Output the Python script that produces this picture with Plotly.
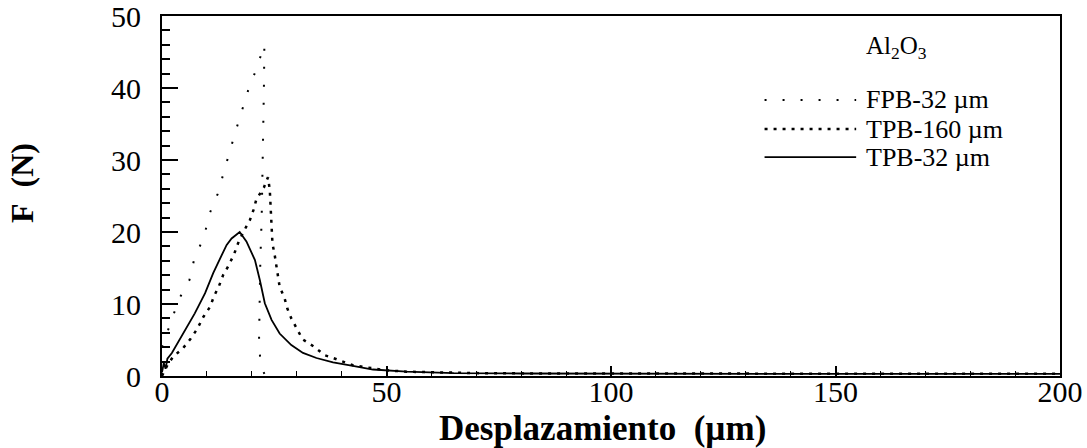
import plotly.graph_objects as go

# ---- data ----
fpb32_x = [0, 2.9, 3.8, 6.1, 7.2, 9.4, 10.5, 12.4, 13.8, 15.0, 16.4, 17.7, 19.2, 21.0, 22.8,
           22.7, 22.5, 22.2, 21.9, 21.7, 21.6, 22.0, 23.0]
fpb32_y = [4.0, 8.9, 10.7, 13.3, 16.3, 19.4, 22.4, 25.3, 28.2, 31.0, 34.0, 36.8, 39.7, 42.6, 46.0,
           40.0, 30.0, 22.0, 16.0, 10.0, 4.5, 1.5, 0.0]

tpb160_x = [0, 1.2, 2.5, 4.6, 6.4, 7.9, 9.2, 10.7, 11.6, 12.7, 13.6, 14.9, 16.1, 17.1, 18.3, 19.6,
            20.4, 21.0, 22.7, 23.6, 24.0, 24.2, 24.4, 24.6, 25.1, 25.5, 26.2, 27.3, 27.9, 28.8,
            31.3, 33.8, 36.2, 38.1, 40.3, 42.5, 45.5, 49.9, 54.4, 59.6, 70, 85, 100, 120, 140,
            160, 180, 200]
tpb160_y = [0.0, 1.5, 2.7, 3.8, 5.2, 6.6, 8.2, 9.6, 11.1, 12.5, 14.0, 15.4, 17.0, 18.7, 20.2, 21.7,
            23.1, 24.5, 26.2, 27.6, 25.9, 23.5, 20.0, 18.4, 16.8, 15.3, 12.4, 10.8, 9.4, 8.0,
            5.1, 4.1, 2.9, 2.5, 2.0, 1.5, 1.2, 0.8, 0.6, 0.5, 0.4, 0.35, 0.35, 0.3, 0.35,
            0.3, 0.3, 0.3]

tpb32_x = [0, 0.4, 0.8, 1.2, 2.2, 4.7, 7.3, 9.6, 11.4, 13.3, 14.4, 15.5, 17.3, 18.8, 20.7, 21.8,
           22.9, 24.4, 26.2, 28.8, 31.4, 34.4, 38.1, 42.5, 47.0, 54.4, 65, 80, 100, 120, 140,
           160, 180, 200]
tpb32_y = [0.5, 1.8, 1.0, 2.4, 3.2, 5.9, 8.7, 11.5, 14.3, 16.8, 18.2, 19.1, 20.0, 18.7, 16.1, 13.3,
           10.1, 7.8, 5.9, 4.3, 3.2, 2.5, 1.9, 1.4, 0.9, 0.6, 0.4, 0.35, 0.3, 0.3, 0.3,
           0.3, 0.3, 0.3]

x_ticks = [0, 50, 100, 150, 200]
y_ticks = [0, 10, 20, 30, 40, 50]

legend_names = ["FPB-32 \u00b5m", "TPB-160 \u00b5m", "TPB-32 \u00b5m"]
legend_dashes = ["2px,16px", "3px,6px", "solid"]
legend_widths = [2, 2.5, 1.8]

FONT = "Liberation Serif"
NB = "\u00a0"

fig = go.Figure()
fig.add_trace(go.Scatter(x=fpb32_x, y=fpb32_y, mode="lines",
                         line=dict(color="black", width=legend_widths[0], dash=legend_dashes[0]),
                         name=legend_names[0], showlegend=False))
fig.add_trace(go.Scatter(x=tpb160_x, y=tpb160_y, mode="lines",
                         line=dict(color="black", width=legend_widths[1], dash=legend_dashes[1]),
                         name=legend_names[1], showlegend=False))
fig.add_trace(go.Scatter(x=tpb32_x, y=tpb32_y, mode="lines",
                         line=dict(color="black", width=legend_widths[2], dash=legend_dashes[2]),
                         name=legend_names[2], showlegend=False))

# manual legend
leg_y = [0.767, 0.686, 0.608]
for name, dash, w, yy in zip(legend_names, legend_dashes, legend_widths, leg_y):
    fig.add_shape(type="line", xref="paper", yref="paper", x0=0.671, x1=0.773, y0=yy, y1=yy,
                  line=dict(color="black", width=w, dash=dash))
    fig.add_annotation(xref="paper", yref="paper", x=0.782, y=yy, text=name, showarrow=False,
                       xanchor="left", yanchor="middle", font=dict(family=FONT, size=26, color="black"))
fig.add_annotation(xref="paper", yref="paper", x=0.782, y=0.912, text="Al<sub>2</sub>O<sub>3</sub>",
                   showarrow=False, xanchor="left", yanchor="middle",
                   font=dict(family=FONT, size=25, color="black"))

# axis titles
fig.add_annotation(xref="paper", yref="paper", x=0.491, y=-0.146,
                   text="<b>Desplazamiento" + NB + NB + "(\u00b5m)</b>",
                   showarrow=False, xanchor="center", yanchor="middle",
                   font=dict(family=FONT, size=35, color="black"))
fig.add_annotation(xref="paper", yref="paper", x=-0.156, y=0.536, text="<b>F" + NB + NB + "(N)</b>",
                   textangle=-90, showarrow=False, xanchor="center", yanchor="middle",
                   font=dict(family=FONT, size=32, color="black"))

fig.update_layout(
    width=1087, height=448,
    margin=dict(l=162, r=27, t=16, b=72, autoexpand=False),
    paper_bgcolor="white", plot_bgcolor="white",
    showlegend=False,
    font=dict(family=FONT, color="black"),
)
fig.update_xaxes(range=[0, 200], tickvals=x_ticks, ticktext=[str(v) for v in x_ticks],
                 showgrid=False, zeroline=False, showline=True, linecolor="black", linewidth=2,
                 mirror=True, ticks="inside", ticklen=10, tickwidth=1.5, tickcolor="black",
                 ticklabelstandoff=-12, ticklabeloverflow="allow",
                 tickfont=dict(family=FONT, size=30, color="black"),
                 minor=dict(dtick=10, ticks="inside", ticklen=5, tickcolor="black", tickwidth=1))
fig.update_yaxes(range=[0, 50], tickvals=y_ticks, ticktext=[str(v) for v in y_ticks],
                 showgrid=False, zeroline=False, showline=True, linecolor="black", linewidth=2,
                 mirror=True, ticks="inside", ticklen=16, tickwidth=2, tickcolor="black",
                 ticklabelstandoff=13, ticklabeloverflow="allow",
                 tickfont=dict(family=FONT, size=30, color="black"),
                 minor=dict(dtick=2, ticks="inside", ticklen=8, tickcolor="black", tickwidth=1.5))

fig.write_html("out.html")
